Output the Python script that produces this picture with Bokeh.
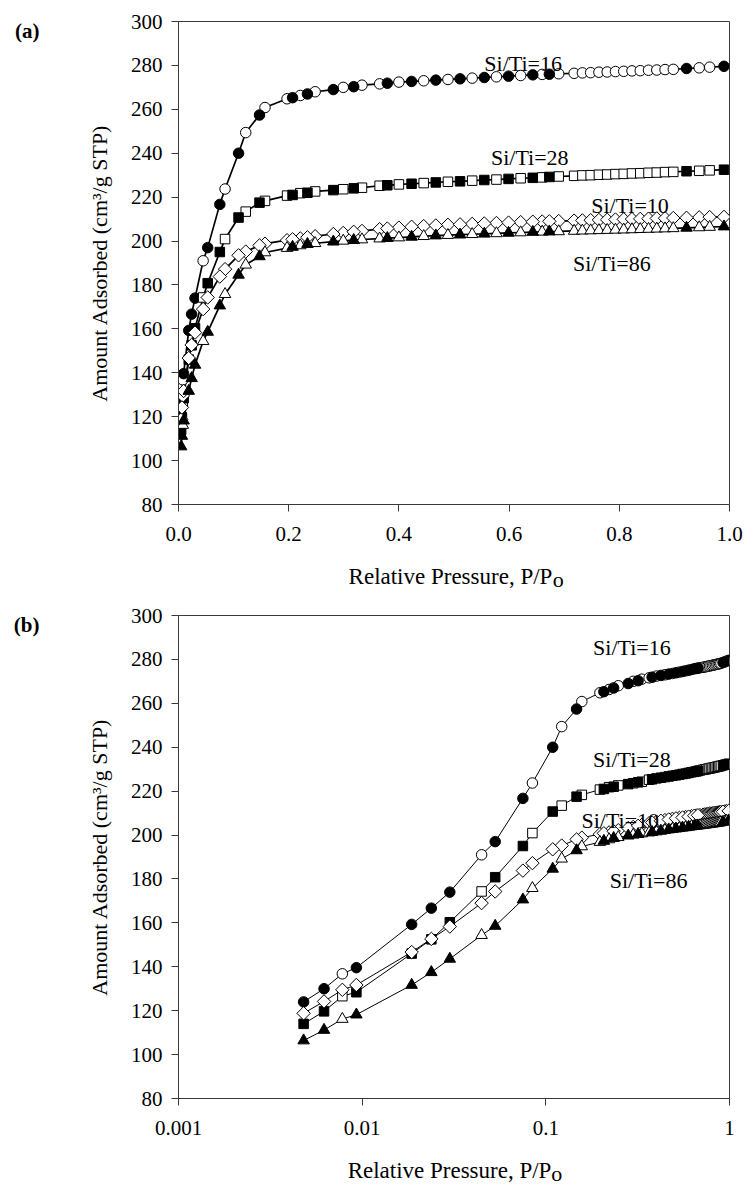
import numpy as np
from bokeh.plotting import figure
from bokeh.models import FixedTicker, NumeralTickFormatter, CustomJSTickFormatter, LinearAxis
from bokeh.layouts import column
from bokeh.embed import file_html
from bokeh.resources import INLINE
from bokeh.core.properties import value

FONT = "Liberation Serif"

# ---------------- data ----------------
ads_p = [0.0048, 0.0062, 0.0093, 0.0186, 0.0238, 0.030, 0.053, 0.075, 0.109, 0.147,
         0.207, 0.234, 0.281, 0.318, 0.379, 0.423, 0.467, 0.511, 0.555, 0.599,
         0.643, 0.673, 0.922, 0.990]
des_p = [0.0078, 0.0447, 0.0845, 0.122, 0.157, 0.197, 0.221, 0.248, 0.299, 0.333,
         0.365, 0.400, 0.445, 0.489, 0.533, 0.577, 0.621, 0.660, 0.690, 0.718,
         0.733, 0.748, 0.763, 0.778, 0.793, 0.808, 0.823, 0.838, 0.853, 0.868,
         0.883, 0.898, 0.945, 0.964]

si16_ads = [124.0, 130.0, 139.6, 159.3, 166.7, 174.0, 197.0, 216.7, 240.0, 257.4,
            265.3, 267.0, 269.0, 270.3, 271.9, 272.7, 273.3, 273.9, 274.5, 275.1,
            275.7, 276.0, 278.6, 279.6]
si16_des = [136.8, 191.0, 223.7, 249.4, 260.8, 264.8, 266.3, 268.0, 270.0, 271.0,
            271.6, 272.4, 273.0, 273.6, 274.2, 274.8, 275.4, 275.9, 276.2, 276.4,
            276.6, 276.7, 276.9, 277.0, 277.2, 277.3, 277.5, 277.6, 277.8, 277.9,
            278.1, 278.2, 278.9, 279.2]

si28_ads = [114.0, 119.7, 128.4, 146.0, 152.5, 160.3, 180.8, 195.0, 210.7, 217.5,
            221.0, 222.0, 223.2, 224.0, 225.4, 226.1, 226.7, 227.2, 227.8, 228.3,
            228.8, 229.2, 231.8, 232.5]
si28_des = [126.6, 174.3, 200.9, 213.4, 218.3, 220.7, 221.8, 222.6, 223.6, 224.3,
            225.2, 225.8, 226.4, 227.0, 227.5, 228.0, 228.6, 229.0, 229.4, 229.7,
            229.9, 230.0, 230.2, 230.3, 230.5, 230.6, 230.8, 230.9, 231.1, 231.2,
            231.4, 231.5, 232.0, 232.2]

si10_ads = [118.8, 124.2, 131.7, 146.7, 152.7, 158.3, 174.3, 183.8, 193.5, 198.0,
            200.8, 201.7, 203.2, 204.2, 205.7, 206.5, 207.1, 207.6, 208.0, 208.4,
            208.8, 209.0, 210.6, 211.0]
si10_des = [129.5, 169.0, 187.2, 195.2, 198.8, 200.4, 201.2, 202.2, 203.7, 204.6,
            205.4, 206.1, 206.8, 207.4, 207.8, 208.2, 208.6, 208.9, 209.1, 209.3,
            209.4, 209.5, 209.6, 209.7, 209.8, 209.9, 210.0, 210.1, 210.2, 210.3,
            210.4, 210.5, 210.8, 210.9]

si86_ads = [106.4, 111.2, 118.2, 131.7, 137.5, 143.6, 158.6, 170.6, 184.6, 193.0,
            197.3, 198.6, 199.7, 200.4, 201.3, 201.9, 202.5, 202.9, 203.3, 203.7,
            204.1, 204.3, 206.0, 206.6]
si86_des = [116.2, 154.4, 175.8, 189.2, 194.8, 196.8, 198.0, 199.0, 200.1, 200.7,
            201.1, 201.6, 202.2, 202.7, 203.1, 203.5, 203.9, 204.2, 204.4, 204.6,
            204.7, 204.8, 204.9, 205.0, 205.1, 205.2, 205.3, 205.4, 205.5, 205.6,
            205.7, 205.8, 206.2, 206.4]

sample_names = ["Si/Ti=16", "Si/Ti=28", "Si/Ti=10", "Si/Ti=86"]
ads_values = [si16_ads, si28_ads, si10_ads, si86_ads]
des_values = [si16_des, si28_des, si10_des, si86_des]

y_ticks = [80, 100, 120, 140, 160, 180, 200, 220, 240, 260, 280, 300]
x_ticks_lin = [0.0, 0.2, 0.4, 0.6, 0.8, 1.0]
x_ticks_log = [0.001, 0.01, 0.1, 1]

label_pos_lin = [(0.555, 281.0), (0.567, 238.2), (0.749, 216.3), (0.716, 189.7)]
label_pos_log = [(0.1807, 285.3), (0.1807, 234.3), (0.1563, 206.6), (0.2228, 179.3)]

X_TITLE = "Relative Pressure, P/P"
X_SUB = "o"
Y_TITLE = "Amount Adsorbed (cm³/g STP)"

# anchor points (data coords) of the outside texts
title_anchor_lin, sub_anchor_lin = 0.4936, 0.689
title_anchor_log, sub_anchor_log = 0.0299, 0.1148
tag_anchor_y = 295.6

styles = [
    dict(marker="circle", angle=0.0, size=10.5, ads_fill="black", des_fill="white"),
    dict(marker="square", angle=0.0, size=9.5, ads_fill="black", des_fill="white"),
    dict(marker="square", angle=np.pi / 4, size=9.5, ads_fill="white", des_fill="white"),
    dict(marker="triangle", angle=0.0, size=11.5, ads_fill="black", des_fill="white"),
]

AX = "#3a3a3a"


def text_axis(text, tick, standoff, size, bold=False):
    return LinearAxis(
        ticker=FixedTicker(ticks=[tick], minor_ticks=[]),
        formatter=CustomJSTickFormatter(code='return "%s";' % text),
        axis_line_color=None, major_tick_line_color=None, minor_tick_line_color=None,
        major_tick_out=0, major_tick_in=0, major_label_standoff=standoff,
        major_label_text_font=FONT, major_label_text_font_size=size,
        major_label_text_font_style="bold" if bold else "normal",
        major_label_text_color="black")


def make_panel(log, tag):
    kw = dict(width=749, height=594, output_backend="svg", toolbar_location=None,
              y_range=(80, 300), min_border_left=178, min_border_right=20,
              min_border_top=21, min_border_bottom=90)
    if log:
        p = figure(x_axis_type="log", x_range=(0.001, 1), **kw)
    else:
        p = figure(x_range=(0.0, 1.0), **kw)
    p.background_fill_color = "white"
    p.border_fill_color = "white"
    p.grid.visible = False
    p.outline_line_color = AX
    p.outline_line_width = 1

    for ax in (p.xaxis[0], p.yaxis[0]):
        ax.axis_line_color = AX
        ax.major_tick_line_color = AX
        ax.major_tick_out = 7
        ax.major_tick_in = 0
        ax.minor_tick_line_color = None
        ax.major_label_text_font = FONT
        ax.major_label_text_font_size = "21px"
        ax.major_label_text_color = "black"
        ax.axis_label_text_font = FONT
        ax.axis_label_text_font_size = "22px"
        ax.axis_label_text_font_style = "normal"
        ax.axis_label_text_color = "black"

    p.yaxis.ticker = FixedTicker(ticks=y_ticks, minor_ticks=[])
    p.yaxis.major_label_standoff = 9
    p.yaxis.axis_label = Y_TITLE
    p.yaxis.axis_label_standoff = 16

    if log:
        p.xaxis.ticker = FixedTicker(ticks=x_ticks_log, minor_ticks=[])
        p.xaxis.formatter = CustomJSTickFormatter(code="return tick.toString();")
    else:
        p.xaxis.ticker = FixedTicker(ticks=x_ticks_lin, minor_ticks=[])
        p.xaxis.formatter = NumeralTickFormatter(format="0.0")
    p.xaxis.major_label_standoff = 15

    lw = 1.0 if log else 1.7
    for ys_a, ys_d, st in zip(ads_values, des_values, styles):
        xs = list(ads_p) + list(des_p)
        ys = list(ys_a) + list(ys_d)
        order = np.argsort(xs)
        p.line([xs[i] for i in order], [ys[i] for i in order], line_color="black", line_width=lw)
    for ys_a, ys_d, st in zip(ads_values, des_values, styles):
        p.scatter(des_p, ys_d, marker=st["marker"], angle=st["angle"], size=st["size"],
                  fill_color=st["des_fill"], line_color="black", line_width=1)
        p.scatter(ads_p, ys_a, marker=st["marker"], angle=st["angle"], size=st["size"],
                  fill_color=st["ads_fill"], line_color="black", line_width=1)

    pos = label_pos_log if log else label_pos_lin
    p.text(x=[q[0] for q in pos], y=[q[1] for q in pos], text=sample_names,
           text_font=value(FONT), text_font_size="22px", text_color="black",
           text_align="left", text_baseline="alphabetic")

    # outside texts carried by tick-less helper axes
    t_anchor = title_anchor_log if log else title_anchor_lin
    s_anchor = sub_anchor_log if log else sub_anchor_lin
    p.add_layout(text_axis(X_SUB, s_anchor, 23, "22px"), "below")
    p.add_layout(text_axis(X_TITLE, t_anchor, -31, "23px"), "below")
    p.add_layout(text_axis(tag, tag_anchor_y, 44, "21px", bold=True), "left")
    return p


pa = make_panel(False, "(a)")
pb = make_panel(True, "(b)")
layout = column(pa, pb, spacing=0)
open("out.html", "w").write(file_html(layout, INLINE))
